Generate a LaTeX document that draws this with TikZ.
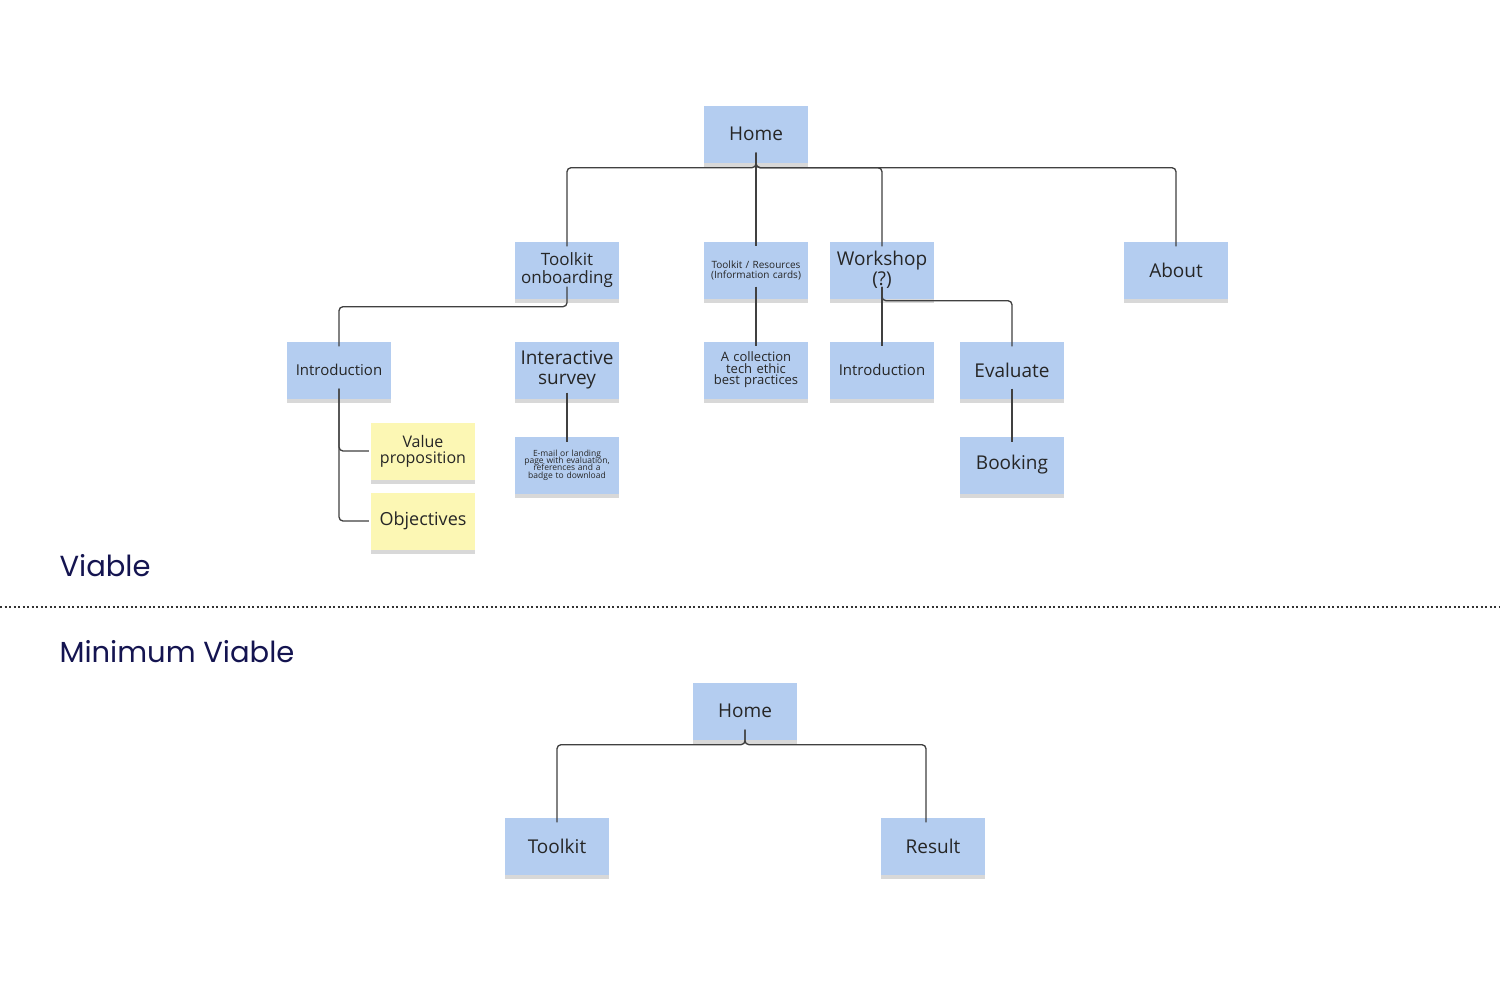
\documentclass[tikz,border=0pt]{standalone}
\usepackage{fontspec}
\setmainfont{Open Sans}
\newfontfamily\headfont{Poppins}
\usetikzlibrary{shadows}
\definecolor{noteblue}{RGB}{180,205,240}
\definecolor{noteyellow}{RGB}{252,247,180}
\definecolor{headnavy}{RGB}{20,20,80}
\tikzset{
  note/.style={fill=noteblue,minimum width=104pt,minimum height=57pt,align=center,
    text width=100pt,inner sep=2pt,text=black!85,
    drop shadow={shadow xshift=0pt,shadow yshift=-4pt,opacity=0.25,fill=black!60}},
  yellow note/.style={note,fill=noteyellow},
  link/.style={draw=black!75,line width=1.3pt,rounded corners=4pt},
  heading/.style={anchor=west,text=headnavy,font=\headfont\fontsize{29}{32}\selectfont}
}
\newcommand{\fs}[1]{\fontsize{#1}{\dimexpr #1pt*6/5\relax}\selectfont}
\begin{document}
\begin{tikzpicture}[x=1pt,y=-1pt]
\useasboundingbox (0,0) rectangle (1500,999);
\fill[white] (0,0) rectangle (1500,999);
% viable
\node[note,font=\fs{19}] (home) at (756,134) {Home};
\node[note,font=\fs{17}] (tko) at (567,270) {Toolkit\\[-3pt]onboarding};
\node[note,font=\fs{10}] (res) at (756,270) {Toolkit / Resources\\[-2pt](Information cards)};
\node[note,font=\fs{19}] (work) at (882,270) {Workshop\\[-3pt](?)};
\node[note,font=\fs{19}] (about) at (1176,270) {About};
\node[note,font=\fs{15}] (intro) at (339,370) {Introduction};
\node[note,font=\fs{19}] (survey) at (567,370) {Interactive\\[-3pt]survey};
\node[note,font=\fs{13}] (coll) at (756,370) {A collection\\[-4pt]tech ethic\\[-4pt]best practices};
\node[note,font=\fs{15}] (wintro) at (882,370) {Introduction};
\node[note,font=\fs{19}] (eval) at (1012,370) {Evaluate};
\node[yellow note,font=\fs{16}] (value) at (423,451) {Value\\[-3pt]proposition};
\node[yellow note,font=\fs{18}] (obj) at (423,521) {Objectives};
\node[note,font=\fs{8.5}] (mail) at (567,465) {E-mail or landing\\[-3pt]page with evaluation,\\[-3pt]references and a\\[-3pt]badge to download};
\node[note,font=\fs{19}] (book) at (1012,465) {Booking};

\draw[link] ([yshift=10]home.south) -- ++(0,15) -| ([yshift=-5]tko.north);
\draw[link] ([yshift=10]home.south) -- ([yshift=-5]res.north);
\draw[link] ([yshift=10]home.south) -- ++(0,15) -| ([yshift=-5]work.north);
\draw[link] ([yshift=10]home.south) -- ++(0,15) -| ([yshift=-5]about.north);
\draw[link] ([yshift=12]tko.south) -- ++(0,20) -| ([yshift=-5]intro.north);
\draw[link] ([yshift=12]res.south) -- ([yshift=-5]coll.north);
\draw[link] ([yshift=12]work.south) -- ([yshift=-5]wintro.north);
\draw[link] ([yshift=12]work.south) -- ++(0,14) -| ([yshift=-5]eval.north);
\draw[link] ([yshift=6]survey.south) -- ([yshift=-6]mail.north);
\draw[link] ([yshift=10]eval.south) -- ([yshift=-6]book.north);
\draw[link] ([yshift=10]intro.south) |- ([xshift=-2]value.west);
\draw[link] ([yshift=10]intro.south) |- ([xshift=-2]obj.west);

\node[heading] (viable) at (56,566) {Viable};
\draw[line width=1.4pt,dash pattern=on 2pt off 2.5pt,black!80] (0,607) -- (1500,607);
\node[heading] (minviable) at (56,652) {Minimum Viable};
% minimum viable
\node[note,font=\fs{19}] (mhome) at (745,711) {Home};
\node[note,font=\fs{19}] (mtool) at (557,846) {Toolkit};
\node[note,font=\fs{19}] (mres) at (933,846) {Result};
\draw[link] ([yshift=10]mhome.south) -- ++(0,15) -| ([yshift=-5]mtool.north);
\draw[link] ([yshift=10]mhome.south) -- ++(0,15) -| ([xshift=-7,yshift=-5]mres.north);
\end{tikzpicture}
\end{document}
